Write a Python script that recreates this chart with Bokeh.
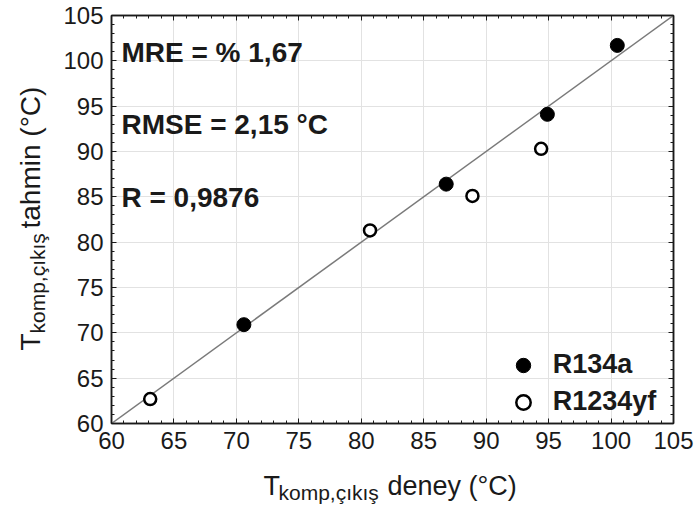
import math
from bokeh.plotting import figure
from bokeh.layouts import row, column
from bokeh.models import LinearAxis, FixedTicker, Label, Legend, LegendItem, Range1d
from bokeh.embed import file_html
from bokeh.resources import INLINE

# ---- data ----
r134a_exp = [70.6, 86.8, 94.9, 100.5]
r134a_pred = [70.9, 86.4, 94.1, 101.7]
r1234yf_exp = [63.1, 80.7, 88.9, 94.4]
r1234yf_pred = [62.7, 81.3, 85.1, 90.3]
ideal = [60, 105]
ticks = [60, 65, 70, 75, 80, 85, 90, 95, 100, 105]
minor_ticks = list(range(60, 106))
stats = ["MRE = % 1,67", "RMSE = 2,15 \u00b0C", "R = 0,9876"]
series_names = ["R134a", "R1234yf"]
x_label = ["T", "komp,\u00e7\u0131k\u0131\u015f", "deney (\u00b0C)"]
y_label = ["T", "komp,\u00e7\u0131k\u0131\u015f", "tahmin (\u00b0C)"]

FONT = "Liberation Sans"
INK = "#1a1a1a"
W, H = 698, 511
FL, FR, FT, FB = 111, 673, 15, 423   # plot frame edges in page pixels
YLAB_W = 55          # strip holding the y-axis title
MAIN_H = 468         # main plot height; x-axis title strip below it

p = figure(width=W - YLAB_W, height=MAIN_H, x_range=Range1d(60, 105), y_range=Range1d(60, 105),
           output_backend="svg", toolbar_location=None,
           min_border_left=FL - YLAB_W, min_border_right=W - FR, min_border_top=FT,
           min_border_bottom=MAIN_H - FB)
p.background_fill_color = "white"
p.border_fill_color = "white"
p.outline_line_color = INK
p.outline_line_width = 1.5

p.add_layout(LinearAxis(), "above")
p.add_layout(LinearAxis(), "right")

for ax in p.axis:
    ax.ticker = FixedTicker(ticks=ticks, minor_ticks=minor_ticks)
    ax.major_tick_in = 5
    ax.major_tick_out = 0
    ax.minor_tick_in = 3
    ax.minor_tick_out = 0
    ax.axis_line_color = INK
    ax.axis_line_width = 1.5
    ax.major_tick_line_color = INK
    ax.minor_tick_line_color = INK
    ax.major_label_text_font = FONT
    ax.major_label_text_font_size = "24px"
    ax.major_label_text_color = INK
    ax.major_label_standoff = 8
    ax.axis_label = None
for ax in p.above + p.right:
    if isinstance(ax, LinearAxis):
        ax.major_label_text_font_size = "1px"
        ax.major_label_text_color = None
        ax.major_label_standoff = 0

p.xgrid.ticker = FixedTicker(ticks=ticks)
p.ygrid.ticker = FixedTicker(ticks=ticks)
p.grid.grid_line_color = "#e2e2e2"
p.grid.grid_line_width = 1

p.line(ideal, ideal, line_color="#7a7a7a", line_width=1.5)
r1 = p.scatter(r134a_exp, r134a_pred, size=14, fill_color="black", line_color="black", line_width=1)
r2 = p.scatter(r1234yf_exp, r1234yf_pred, size=12, fill_color="white", line_color="black", line_width=2.5)

legend = Legend(items=[LegendItem(label=series_names[0], renderers=[r1]),
                       LegendItem(label=series_names[1], renderers=[r2])],
                location=(393.7, 3.3), glyph_width=36, glyph_height=36, label_height=36,
                label_standoff=12, spacing=1, padding=0, margin=0,
                border_line_color=None, background_fill_alpha=0,
                label_text_font=FONT, label_text_font_size="27px",
                label_text_font_style="bold", label_text_color=INK)
p.add_layout(legend)

for txt, yb in zip(stats, [100.9, 93.0, 84.9]):
    p.add_layout(Label(x=60.8, y=yb, text=txt, text_font=FONT, text_font_size="28px",
                       text_font_style="bold", text_color=INK, text_baseline="alphabetic"))


def strip(w, h, bl, br, bt, bb, x0, x1, y0, y1):
    # helper figure whose frame spans page pixels x0..x1, y0..y1 (y from top)
    f = figure(width=w, height=h, x_range=Range1d(x0, x1), y_range=Range1d(y1, y0),
               x_axis_type=None, y_axis_type=None, output_backend="svg", toolbar_location=None,
               min_border_left=bl, min_border_right=br, min_border_top=bt, min_border_bottom=bb)
    f.outline_line_color = None
    f.grid.visible = False
    f.background_fill_color = "white"
    f.border_fill_color = "white"
    return f


def piece(f, x, y, text, size, angle=0.0):
    f.add_layout(Label(x=x, y=y, text=text, angle=angle, text_font=FONT, text_font_size=size,
                       text_color=INK, text_baseline="alphabetic"))


# x-axis title strip: frame spans same columns as the main frame
xf = strip(W - YLAB_W, H - MAIN_H, FL - YLAB_W, W - FR, 0, 0, FL, FR, MAIN_H, H)
piece(xf, 263, 485, x_label[0], "27px")
piece(xf, 278, 492, x_label[1], "21px")
piece(xf, 387, 485, x_label[2], "27px")

# y-axis title strip: frame spans same rows as the main frame
yf = strip(YLAB_W, H, 0, 0, FT, H - FB, 0, YLAB_W, FT, FB)
piece(yf, 30, 350, y_label[0], "28px", math.pi / 2)
piece(yf, 37, 333, y_label[1], "21px", math.pi / 2)
piece(yf, 30, 228, y_label[2], "28px", math.pi / 2)

layout = row(yf, column(p, xf, spacing=0), spacing=0)
open("out.html", "w").write(file_html(layout, INLINE))
